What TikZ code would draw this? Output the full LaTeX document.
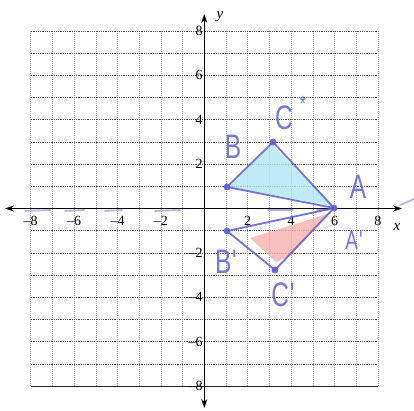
\documentclass[tikz,border=0pt]{standalone}
\usepackage{fontspec}
\setmainfont{Liberation Serif}
\newfontfamily\hand{Liberation Sans}
\usetikzlibrary{arrows.meta}
\definecolor{penc}{RGB}{95,95,212}
\definecolor{cyanfill}{RGB}{175,230,242}
\definecolor{redfill}{RGB}{246,175,175}
\tikzset{
 gridv/.style={gray!75, line width=0.5pt, dash pattern=on 0.8pt off 1.2pt},
 gridh/.style={black!70, line width=0.6pt, dash pattern=on 1pt off 0.8pt},
 axisline/.style={black, line width=1.1pt, {Stealth[length=9pt,width=6pt]}-{Stealth[length=9pt,width=6pt]}},
 ticklab/.style={font=\rmfamily\fontsize{14}{14}\selectfont, inner sep=0pt},
 penline/.style={penc, line width=1.8pt, line cap=round, opacity=0.88},
 pendash/.style={penc!70, line width=1.6pt, line cap=round, opacity=0.7},
 vdot/.style={circle, fill=penc, inner sep=0pt, minimum size=7pt, opacity=0.9},
 hw/.style={text=penc, font=\hand\fontsize{34}{34}\selectfont, xscale=0.72, inner sep=0pt, text opacity=0.85},
}
\begin{document}
\begin{tikzpicture}[x=1pt,y=-1pt]
\useasboundingbox (0,0) rectangle (414,411);
% grid
\begin{scope}[shift={(204.3,208.5)}, x=21.7pt, y=22.2pt]
  \foreach \i in {-8,...,8} {
    \draw[gridv] (\i,-8) -- (\i,8);
    \draw[gridh] (-8,\i) -- (8,\i);
  }
  \draw[black!85, line width=0.7pt] (-8,-8) -- (8,-8);
  % tick labels
  \foreach \v/\t in {8/8,6/6,4/4,2/2,-2/–2,-4/–4,-6/–6,-8/–8}
    \node[ticklab, anchor=east] (ty\v) at (-0.07,\v) {\t};
  \foreach \v/\t in {-8/–8,-6/–6,-4/–4,-2/–2,2/2,4/4,6/6,8/8}
    \node[ticklab] (tx\v) at (\v,-0.55) {\t};
\end{scope}
% axes
\coordinate (xl) at (5,208.5);
\coordinate (xr) at (402,208.5);
\coordinate (yt) at (204.3,14);
\coordinate (yb) at (204.3,408);
\draw[axisline] (xl) -- (xr);
\draw[axisline] (yb) -- (yt);
\node[ticklab, font=\rmfamily\itshape\fontsize{15}{15}\selectfont] (xlab) at (397,227) {x};
\node[ticklab, font=\rmfamily\itshape\fontsize{15}{15}\selectfont] (ylab) at (220,17) {y};
% fills
\fill[cyanfill, opacity=0.8] (229,187) -- (272,144) -- (332,206) -- (300,200) -- cycle;
\fill[redfill, opacity=0.8] (250,238) -- (318,217) -- (329,213) -- (292,254) -- (276,262) -- cycle;
% blue dashes along x-axis
\draw[pendash] (25,211) -- (50,210);
\draw[pendash] (65,211) -- (84,210);
\draw[pendash] (105,211) -- (122,210);
\draw[pendash] (155,211) -- (180,210);
\draw[pendash] (268,210) -- (293,210);
\draw[pendash] (317,210) -- (328,210);
\draw[pendash] (400,205) -- (414,199);
% vertices
\node[vdot] (A) at (334,208) {};
\node[vdot] (B) at (227,187) {};
\node[vdot] (C) at (273,142) {};
\node[vdot] (Bp) at (227,231) {};
\node[vdot] (Cp) at (275,270) {};
\draw[penline] (B.center) -- (C.center) -- (A.center) -- cycle;
\draw[penline] (Bp.center) -- (Cp.center) -- (A.center) -- cycle;
% labels
\node[hw] (lB) at (233,147) {B};
\node[hw] (lC) at (284,118) {C};
\node[hw, font=\hand\fontsize{22}{22}\selectfont] (lCs) at (303,104) {*};
\node[hw] (lA) at (358,187) {A};
\node[hw, font=\hand\fontsize{26}{26}\selectfont] (lAp) at (354,241) {A\kern2pt'};
\node[hw] (lBp) at (226,262) {B\kern1pt'};
\node[hw] (lCp) at (283,295) {C\kern1pt'};
\end{tikzpicture}
\end{document}
